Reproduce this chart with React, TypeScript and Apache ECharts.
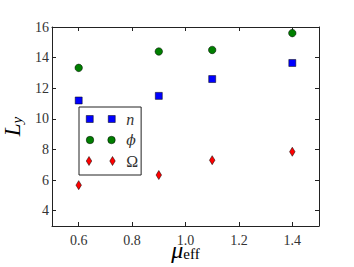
import React, { useEffect, useRef } from "react";
import * as echarts from "echarts";

const muEff = [0.6, 0.9, 1.1, 1.4];
const nValues = [11.2, 11.5, 12.6, 13.65];
const phiValues = [13.33, 14.4, 14.5, 15.6];
const omegaValues = [5.67, 6.33, 7.3, 7.85];
const xTicks = [0.6, 0.8, 1.0, 1.2, 1.4];
const yTicks = [4, 6, 8, 10, 12, 14, 16];
const seriesNames = ["n", "ϕ", "Ω"];

const FONT = "Liberation Serif, DejaVu Serif, serif";

const squaresIcon = "path://M0,0H7V7H0Z M22,0H29V7H22Z";
const circlesIcon =
  "path://M0,3.75A3.75,3.75 0 1 1 7.5,3.75A3.75,3.75 0 1 1 0,3.75Z M21.5,3.75A3.75,3.75 0 1 1 29,3.75A3.75,3.75 0 1 1 21.5,3.75Z";
const diamondsIcon = "path://M2.75,0L5.5,4.5L2.75,9L0,4.5Z M26.25,0L29,4.5L26.25,9L23.5,4.5Z";

export default function App() {
  const ref = useRef<HTMLDivElement>(null);
  useEffect(() => {
    if (!ref.current) return;
    const chart = echarts.init(ref.current, undefined, { renderer: "svg" });
    const axisLine = { show: true, lineStyle: { color: "#222", width: 1 } };
    const tickStyle = { inside: true, length: 4, lineStyle: { color: "#222", width: 1 } };
    const labelStyle = { color: "#333", fontFamily: FONT, fontSize: 14 };
    const border = { borderColor: "#000", borderWidth: 0.5, opacity: 1 };
    chart.setOption({
      animation: false,
      textStyle: { fontFamily: FONT },
      grid: { left: 52, right: 35, top: 27, bottom: 41, outerBoundsMode: "none", containLabel: false },
      xAxis: [
        {
          type: "value",
          min: 0.5,
          max: 1.5,
          axisLine,
          axisTick: { ...tickStyle, customValues: xTicks },
          axisLabel: { ...labelStyle, margin: 7, customValues: xTicks, formatter: (v: number) => v.toFixed(1) },
          splitLine: { show: false },
          name: "{m|μ}{s|eff}",
          nameLocation: "middle",
          nameGap: 11.5,
          nameMoveOverlap: false,
          nameTextStyle: {
            rich: {
              m: { fontFamily: FONT, fontStyle: "italic", fontSize: 24, color: "#000" },
              s: { fontFamily: FONT, fontSize: 15, color: "#000", verticalAlign: "bottom" },
            },
          },
        },
        {
          type: "value",
          position: "top",
          min: 0.5,
          max: 1.5,
          axisLine,
          axisTick: { ...tickStyle, customValues: xTicks },
          axisLabel: { show: false, customValues: xTicks },
          splitLine: { show: false },
        },
      ],
      yAxis: [
        {
          type: "value",
          min: 3,
          max: 16,
          axisLine,
          axisTick: { ...tickStyle, customValues: yTicks },
          axisLabel: { ...labelStyle, margin: 3, customValues: yTicks },
          splitLine: { show: false },
          name: "{L|L}{s|y}",
          nameLocation: "middle",
          nameRotate: 90,
          nameGap: 22,
          nameTextStyle: {
            rich: {
              L: { fontFamily: FONT, fontStyle: "italic", fontSize: 23, color: "#000" },
              s: { fontFamily: FONT, fontStyle: "italic", fontSize: 15, color: "#000", verticalAlign: "bottom" },
            },
          },
        },
        {
          type: "value",
          position: "right",
          min: 3,
          max: 16,
          axisLine,
          axisTick: { ...tickStyle, customValues: yTicks },
          axisLabel: { show: false, customValues: yTicks },
          splitLine: { show: false },
        },
      ],
      legend: {
        orient: "vertical",
        left: 79,
        top: 107,
        padding: [4, 3, 6, 7],
        itemGap: 6,
        itemWidth: 29,
        itemHeight: 10,
        borderColor: "#222",
        borderWidth: 1,
        borderRadius: 0,
        symbolKeepAspect: true,
        data: [
          { name: seriesNames[0], icon: squaresIcon, itemStyle: { color: "#0000ff", ...border } },
          { name: seriesNames[1], icon: circlesIcon, itemStyle: { color: "#007f00", ...border } },
          { name: seriesNames[2], icon: diamondsIcon, itemStyle: { color: "#ff0000", ...border } },
        ],
        formatter: (name: string) => (name === "Ω" ? `{u|${name}}` : name === "ϕ" ? `{p|${name}}` : `{i|${name}}`),
        textStyle: {
          rich: {
            i: { fontFamily: FONT, fontStyle: "italic", fontSize: 16, color: "#333", lineHeight: 16, padding: [0, 0, 0, 6] },
            p: { fontFamily: "DejaVu Serif", fontStyle: "italic", fontSize: 14, color: "#333", lineHeight: 16, padding: [0, 0, 0, 6] },
            u: { fontFamily: FONT, fontSize: 16, color: "#333", lineHeight: 16, padding: [0, 0, 0, 6] },
          },
        },
      },
      series: [
        {
          name: seriesNames[0],
          type: "scatter",
          symbol: "rect",
          symbolSize: 7,
          itemStyle: { color: "#0000ff", ...border },
          data: muEff.map((x, i) => [x, nValues[i]]),
        },
        {
          name: seriesNames[1],
          type: "scatter",
          symbol: "circle",
          symbolSize: 7.5,
          itemStyle: { color: "#007f00", ...border },
          data: muEff.map((x, i) => [x, phiValues[i]]),
        },
        {
          name: seriesNames[2],
          type: "scatter",
          symbol: "diamond",
          symbolSize: [5.5, 9],
          itemStyle: { color: "#ff0000", ...border },
          data: muEff.map((x, i) => [x, omegaValues[i]]),
        },
      ],
    });
    return () => chart.dispose();
  }, []);
  return <div ref={ref} style={{ position: "fixed", left: 0, top: 0, width: 354, height: 267, background: "#fff" }} />;
}
